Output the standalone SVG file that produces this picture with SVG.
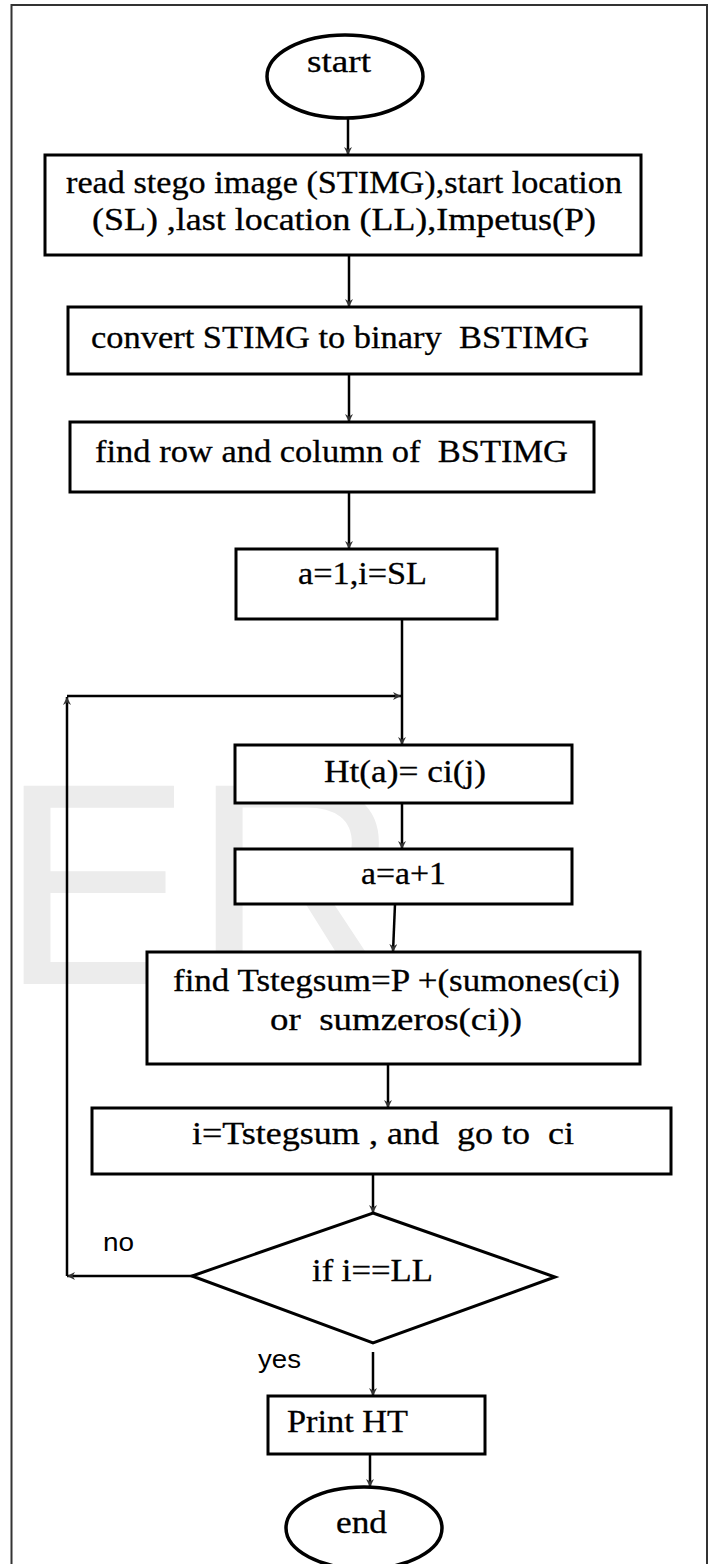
<svg xmlns="http://www.w3.org/2000/svg" width="711" height="1564" viewBox="0 0 711 1564">
  <defs>
    <marker id="arrow" viewBox="0 0 10 10" refX="10" refY="5" markerWidth="8" markerHeight="8" markerUnits="userSpaceOnUse" orient="auto">
      <path d="M0,0 L10,5 L0,10 L3,5 Z" fill="#333"/>
    </marker>
    <style>
      .shape { fill: #ffffff; stroke: #000; stroke-width: 3; }
      .oval { fill: #ffffff; stroke: #000; stroke-width: 3.5; }
      .conn { fill: none; stroke: #000; stroke-width: 2.5; marker-end: url(#arrow); }
      .lbl { font-family: "Liberation Serif", "Times New Roman", serif; font-size: 32px; fill: #000; stroke: #000; stroke-width: 0.3; white-space: pre; }
      .tag { font-family: "Liberation Sans", Arial, sans-serif; font-size: 26px; fill: #000; }
      .mark { font-family: "Liberation Sans", Arial, sans-serif; font-size: 288px; fill: #ececec; }
    </style>
  </defs>

  <rect x="0" y="0" width="711" height="1564" fill="#ffffff"/>
  <!-- page frame -->
  <rect x="11.5" y="5" width="695.5" height="1600" fill="none" stroke="#333" stroke-width="2"/>
  <!-- faint background lettering -->
  <text class="mark" x="0" y="984">ER</text>

  <g id="connectors">
    <line class="conn" x1="348" y1="118" x2="348" y2="155"/>
    <line class="conn" x1="349" y1="255" x2="349" y2="307"/>
    <line class="conn" x1="349" y1="374" x2="349" y2="422"/>
    <line class="conn" x1="349" y1="492" x2="349" y2="549"/>
    <line class="conn" x1="402" y1="619" x2="402" y2="745"/>
    <line class="conn" x1="193" y1="1276" x2="67" y2="1276"/>
    <line class="conn" x1="67" y1="1276" x2="67" y2="697"/>
    <line class="conn" x1="67" y1="696" x2="401" y2="696"/>
    <line class="conn" x1="402" y1="803" x2="402" y2="849"/>
    <line class="conn" x1="395" y1="904" x2="393" y2="952" stroke="#333"/>
    <line class="conn" x1="388" y1="1064" x2="388" y2="1108"/>
    <line class="conn" x1="373" y1="1174" x2="373" y2="1213"/>
    <line class="conn" x1="373" y1="1352" x2="373" y2="1396"/>
    <line class="conn" x1="370" y1="1454" x2="370" y2="1487"/>
  </g>

  <g id="start">
    <ellipse class="oval" cx="345" cy="76.5" rx="78" ry="41.5"/>
    <text class="lbl" x="307" y="72" textLength="64" lengthAdjust="spacingAndGlyphs">start</text>
  </g>

  <g id="read-input">
    <rect class="shape" x="45" y="155" width="596" height="100"/>
    <text class="lbl" x="66" y="193" textLength="556" lengthAdjust="spacingAndGlyphs">read stego image (STIMG),start location</text>
    <text class="lbl" x="92" y="230" textLength="504" lengthAdjust="spacingAndGlyphs">(SL) ,last location (LL),Impetus(P)</text>
  </g>

  <g id="convert">
    <rect class="shape" x="68" y="307" width="573" height="67"/>
    <text class="lbl" x="91" y="348" textLength="498" lengthAdjust="spacingAndGlyphs">convert STIMG to binary  BSTIMG</text>
  </g>

  <g id="find-size">
    <rect class="shape" x="70" y="422" width="524" height="70"/>
    <text class="lbl" x="95" y="462" textLength="473" lengthAdjust="spacingAndGlyphs">find row and column of  BSTIMG</text>
  </g>

  <g id="init">
    <rect class="shape" x="236" y="549" width="261" height="70"/>
    <text class="lbl" x="298" y="584" textLength="129" lengthAdjust="spacingAndGlyphs">a=1,i=SL</text>
  </g>

  <g id="store-bit">
    <rect class="shape" x="235" y="745" width="337" height="58"/>
    <text class="lbl" x="324" y="782" textLength="162" lengthAdjust="spacingAndGlyphs">Ht(a)= ci(j)</text>
  </g>

  <g id="increment">
    <rect class="shape" x="235" y="849" width="337" height="55"/>
    <text class="lbl" x="361" y="884" textLength="85" lengthAdjust="spacingAndGlyphs">a=a+1</text>
  </g>

  <g id="find-sum">
    <rect class="shape" x="147" y="952" width="493" height="112"/>
    <text class="lbl" x="173" y="991" textLength="447" lengthAdjust="spacingAndGlyphs">find Tstegsum=P +(sumones(ci)</text>
    <text class="lbl" x="270" y="1030" textLength="252" lengthAdjust="spacingAndGlyphs">or  sumzeros(ci))</text>
  </g>

  <g id="jump">
    <rect class="shape" x="92" y="1108" width="579" height="66"/>
    <text class="lbl" x="192" y="1144" textLength="382" lengthAdjust="spacingAndGlyphs">i=Tstegsum , and  go to  ci</text>
  </g>

  <g id="decision">
    <polygon class="shape" points="373,1213 555,1277 373,1343 192,1276"/>
    <text class="lbl" x="312" y="1281" textLength="121" lengthAdjust="spacingAndGlyphs">if i==LL</text>
    <text class="tag" x="103" y="1251" textLength="31" lengthAdjust="spacingAndGlyphs">no</text>
    <text class="tag" x="258" y="1368" textLength="43" lengthAdjust="spacingAndGlyphs">yes</text>
  </g>

  <g id="print">
    <rect class="shape" x="268" y="1396" width="217" height="58"/>
    <text class="lbl" x="287" y="1432" textLength="121" lengthAdjust="spacingAndGlyphs">Print HT</text>
  </g>

  <g id="end">
    <ellipse class="oval" cx="364" cy="1528" rx="78" ry="41"/>
    <text class="lbl" x="336" y="1533" textLength="51" lengthAdjust="spacingAndGlyphs">end</text>
  </g>
</svg>
